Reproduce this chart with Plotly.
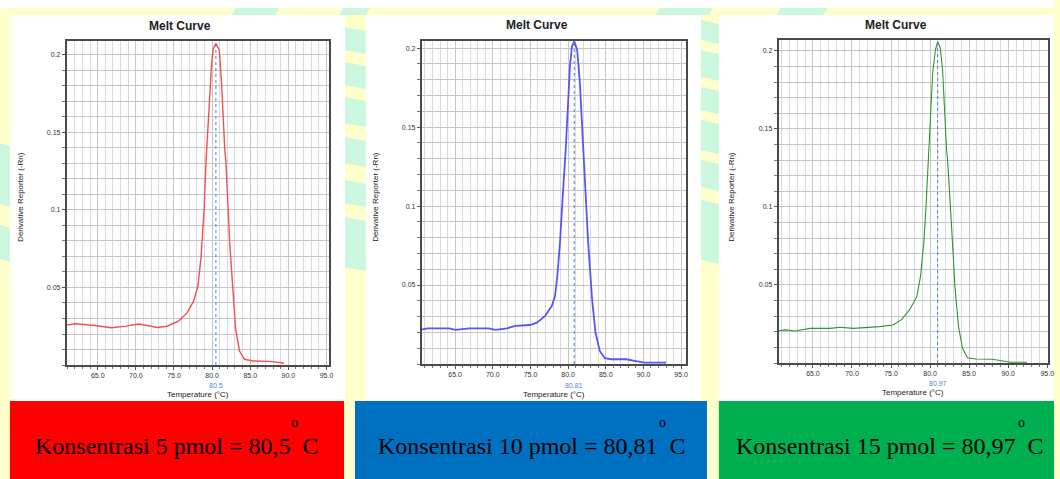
import plotly.graph_objects as go

W, H = 1060, 479

# ---------------- data ----------------
temp_5 = [60.9, 62.05, 64.64, 66.8, 68.7, 70.46, 72.83, 74.12, 75.64, 76.71, 77.58, 78.13, 78.52,
          78.95, 79.21, 79.3, 79.94, 80.16, 80.5, 80.94, 81.24, 81.66, 81.8, 82.31, 82.83, 83.09,
          83.6, 84.25, 85.34, 87.93, 89.43]
deriv_5 = [0.0257, 0.0266, 0.0255, 0.0240, 0.0251, 0.0264, 0.0242, 0.0250, 0.0285, 0.0336, 0.0412,
           0.0508, 0.068, 0.100, 0.132, 0.139, 0.1946, 0.204, 0.2075, 0.203, 0.182, 0.139, 0.132,
           0.0788, 0.0423, 0.023, 0.009, 0.0037, 0.0026, 0.0022, 0.0011]

temp_10 = [60.36, 61.34, 64.19, 65.07, 66.83, 69.46, 70.35, 71.89, 72.99, 74.97, 75.85, 76.94, 77.83,
           78.26, 78.57, 78.92, 79.23, 79.58, 79.68, 80.24, 80.5, 80.81, 81.2, 81.56, 82.0, 82.13,
           82.66, 83.18, 83.63, 84.2, 84.86, 85.74, 87.72, 88.82, 90.14, 93.0]
deriv_10 = [0.0216, 0.0226, 0.0226, 0.0216, 0.0226, 0.0226, 0.0216, 0.0226, 0.0241, 0.0247, 0.0262,
            0.0304, 0.0367, 0.043, 0.0557, 0.0768, 0.102, 0.1295, 0.1358, 0.1884, 0.201, 0.2042,
            0.199, 0.178, 0.1337, 0.1295, 0.0768, 0.041, 0.0199, 0.0083, 0.0037, 0.003, 0.003,
            0.002, 0.0009, 0.0009]

temp_15 = [60.61, 61.47, 62.74, 64.65, 67.19, 68.46, 70.16, 71.86, 73.55, 75.24, 76.31, 77.37, 78.3,
           78.77, 79.19, 79.5, 79.79, 80.33, 80.68, 80.97, 81.31, 81.6, 82.11, 82.24, 82.75, 83.18,
           83.64, 84.15, 84.79, 85.86, 87.97, 89.24, 90.31, 92.42]
deriv_15 = [0.0207, 0.0212, 0.0205, 0.0222, 0.0222, 0.0229, 0.0222, 0.0226, 0.0233, 0.0244, 0.0276,
            0.034, 0.0425, 0.0553, 0.0767, 0.1024, 0.130, 0.1857, 0.2006, 0.206, 0.2017, 0.1878,
            0.1365, 0.130, 0.0874, 0.049, 0.0233, 0.0094, 0.0034, 0.0026, 0.0024, 0.0013, 0.0005,
            0.0005]

tm_values = [80.5, 80.81, 80.97]
tm_labels = ["80.5", "80.81", "80.97"]
box_labels = ["Konsentrasi 5 pmol = 80,5  C",
              "Konsentrasi 10 pmol = 80,81  C",
              "Konsentrasi 15 pmol = 80,97  C"]
degree_mark = "o"
x_tick_vals = [65, 70, 75, 80, 85, 90, 95]
x_tick_text = ["65.0", "70.0", "75.0", "80.0", "85.0", "90.0", "95.0"]
y_tick_vals = [0.05, 0.1, 0.15, 0.2]
y_tick_text = ["0.05", "0.1", "0.15", "0.2"]
chart_title = "Melt Curve"
x_title = "Temperature (°C)"
y_title = "Derivative Reporter (-Rn)"

# ---------------- layout geometry (pixels) ----------------
line_colors = ["rgb(245,80,80)", "rgb(85,85,255)", "rgb(45,150,45)"]
line_widths = [1.4, 1.8, 1.1]
box_colors = ["#FF0000", "#0070C0", "#00B050"]
plot_px = [(67, 331, 41, 365), (424, 690, 41, 364), (783, 1054, 40, 363)]
x_ranges = [[60.92, 95.35], [60.55, 95.66], [60.6, 95.1]]
y_ranges = [[0, 0.209], [0, 0.2045], [0, 0.207]]
panel_px = [(10, 347, 15, 401), (368, 705, 15, 401), (723, 1060, 15, 401)]
box_px = [(10, 346, 401, 479), (357, 711, 401, 479), (723, 1060, 401, 479)]
title_pos = [(181, 26), (540, 25), (901, 25)]
ytitle_x = [20, 377, 735]
tm_label_y = [385.5, 385.5, 383]
xtitle_y = [394, 394, 392]
box_text_x = [178, 535, 895]
degree_x = [296, 666, 1027]


def fx(x):
    return x / W


def fy(y):
    return 1 - y / H


def poly(points):
    s = "M " + " L ".join(f"{fx(x):.5f},{fy(y):.5f}" for x, y in points) + " Z"
    return s


MINT = "#CCF7DF"
YELLOW = "#FFFFCC"

fig = go.Figure()
series = [(temp_5, deriv_5), (temp_10, deriv_10), (temp_15, deriv_15)]
for i, (tx, dy) in enumerate(series):
    n = "" if i == 0 else str(i + 1)
    fig.add_trace(go.Scatter(x=tx, y=dy, mode="lines", xaxis="x" + n, yaxis="y" + n,
                             line=dict(color=line_colors[i], width=line_widths[i]),
                             showlegend=False, hoverinfo="skip"))

layout = dict(width=W, height=H, autosize=False, margin=dict(l=0, r=0, t=0, b=0),
              paper_bgcolor=YELLOW, plot_bgcolor="rgba(0,0,0,0)", showlegend=False)

axfont = dict(family="Liberation Sans, Arial", size=7, color="#333")
for i in range(3):
    n = "" if i == 0 else str(i + 1)
    x0, x1, y0, y1 = plot_px[i]
    layout["xaxis" + n] = dict(
        domain=[fx(x0), fx(x1)], range=x_ranges[i], anchor="y" + n,
        tickmode="array", tickvals=x_tick_vals, ticktext=x_tick_text,
        ticks="outside", ticklen=3, tickcolor="#555", tickfont=axfont,
        showgrid=True, gridcolor="#c6c6c6", gridwidth=1,
        minor=dict(tick0=60, dtick=1, ticks="outside", ticklen=2, tickcolor="#777",
                   showgrid=True, gridcolor="#dadada", gridwidth=1),
        showline=True, mirror=True, linecolor="#4a4a4a", linewidth=1.5,
        zeroline=False, fixedrange=True)
    layout["yaxis" + n] = dict(
        domain=[fy(y1), fy(y0)], range=y_ranges[i], anchor="x" + n,
        tickmode="array", tickvals=y_tick_vals, ticktext=y_tick_text,
        ticks="outside", ticklen=3, tickcolor="#555", tickfont=axfont,
        showgrid=True, gridcolor="#c6c6c6", gridwidth=1,
        minor=dict(tick0=0, dtick=0.01, ticks="outside", ticklen=3, tickcolor="#777",
                   showgrid=True, gridcolor="#c6c6c6", gridwidth=1),
        showline=True, mirror=True, linecolor="#4a4a4a", linewidth=1.5,
        zeroline=False, fixedrange=True)

shapes = []
# top white band
shapes.append(dict(type="rect", xref="paper", yref="paper", x0=0, x1=1, y0=fy(8), y1=1,
                   fillcolor="white", line_width=0, layer="below"))
# mint background stripes
mint_polys = []
for a, b in [(233, 277), (341, 368), (659, 713), (781, 828)]:
    mint_polys.append([(a + 4, 8), (b + 4, 8), (b, 15), (a, 15)])
for a, b in [(27, 50), (62, 85), (97, 123), (137, 163), (180, 203), (217, 267)]:
    mint_polys.append([(346, a), (368, a + 4), (368, b + 4), (346, b)])
for a, b in [(20, 40), (50, 77), (87, 110), (120, 150), (160, 187), (200, 260)]:
    mint_polys.append([(705, a), (723, a + 4), (723, b + 4), (705, b)])
for a, b in [(143, 207), (225, 262)]:
    mint_polys.append([(0, a), (10, a + 3), (10, b), (0, b - 3)])
for p in mint_polys:
    shapes.append(dict(type="path", xref="paper", yref="paper", path=poly(p),
                       fillcolor=MINT, line_width=0, layer="below"))
# white panels
for (a, b, c, d) in panel_px:
    shapes.append(dict(type="rect", xref="paper", yref="paper", x0=fx(a), x1=fx(b),
                       y0=fy(d), y1=fy(c), fillcolor="white", line_width=0, layer="below"))
# coloured boxes
for i, (a, b, c, d) in enumerate(box_px):
    shapes.append(dict(type="rect", xref="paper", yref="paper", x0=fx(a), x1=fx(b),
                       y0=fy(d), y1=fy(c), fillcolor=box_colors[i], line_width=0, layer="below"))
# Tm dotted lines
for i, tm in enumerate(tm_values):
    n = "" if i == 0 else str(i + 1)
    shapes.append(dict(type="line", xref="x" + n, yref="y" + n + " domain", x0=tm, x1=tm,
                       y0=0, y1=1, line=dict(color="#4a7fe0", width=1, dash="dot"), layer="above"))

annotations = []
for i in range(3):
    tx, ty = title_pos[i]
    annotations.append(dict(text="<b>" + chart_title + "</b>", xref="paper", yref="paper",
                            x=fx(tx), y=fy(ty), showarrow=False, xanchor="center", yanchor="middle",
                            font=dict(family="Liberation Sans, Arial", size=12, color="#222")))
    annotations.append(dict(text=y_title, xref="paper", yref="paper", x=fx(ytitle_x[i]),
                            y=fy(197), textangle=-90, showarrow=False, xanchor="center",
                            yanchor="middle",
                            font=dict(family="Liberation Sans, Arial", size=8, color="#222")))
    x0, x1, y0, y1 = plot_px[i]
    annotations.append(dict(text=x_title, xref="paper", yref="paper", x=fx((x0 + x1) / 2),
                            y=fy(xtitle_y[i]), showarrow=False, xanchor="center", yanchor="middle",
                            font=dict(family="Liberation Sans, Arial", size=8, color="#222")))
    n = "" if i == 0 else str(i + 1)
    annotations.append(dict(text=tm_labels[i], xref="x" + n, yref="paper", x=tm_values[i],
                            y=fy(tm_label_y[i]), showarrow=False, xanchor="center",
                            yanchor="middle",
                            font=dict(family="Liberation Sans, Arial", size=7, color="#4a86e8")))
    annotations.append(dict(text=box_labels[i], xref="paper", yref="paper", x=fx(box_text_x[i]),
                            y=fy(432), showarrow=False, xanchor="center", yanchor="top",
                            borderpad=0,
                            font=dict(family="Liberation Serif, Times New Roman", size=24,
                                      color="black")))
    annotations.append(dict(text=degree_mark, xref="paper", yref="paper", x=fx(degree_x[i]),
                            y=fy(431), showarrow=False, xanchor="center", yanchor="bottom",
                            borderpad=0,
                            font=dict(family="Liberation Serif, Times New Roman", size=14,
                                      color="black")))

layout["shapes"] = shapes
layout["annotations"] = annotations
fig.update_layout(**layout)
fig.write_html("out.html")
